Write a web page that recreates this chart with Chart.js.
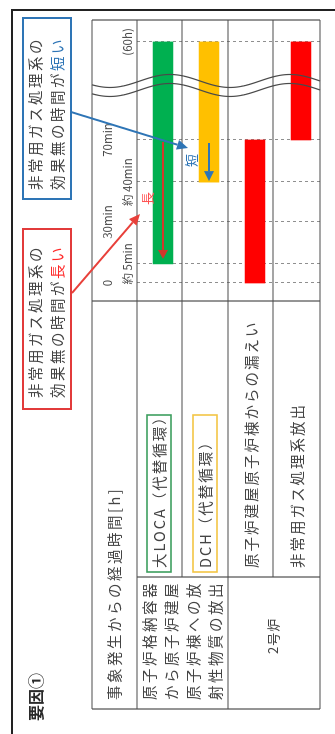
<!DOCTYPE html>
<html lang="ja">
<head>
<meta charset="utf-8">
<title>要因①</title>
<script src="https://cdn.jsdelivr.net/npm/chart.js@4.4.1/dist/chart.umd.min.js"></script>
<style>
  html, body { margin: 0; padding: 0; background: #fff; overflow: hidden; }
  body { width: 335px; height: 734px; position: relative; }
  /* the sheet is laid out landscape and turned to read bottom-to-top */
  #sheet {
    position: absolute; left: 0; top: 0; width: 734px; height: 335px;
    transform-origin: 0 0; transform: translate(0, 734px) rotate(-90deg);
    font-family: "Noto Sans CJK JP", "Noto Sans", sans-serif; color: #444;
  }
  #sheet canvas { position: absolute; left: 0; top: 0; }
  .t { position: absolute; white-space: nowrap; font-size: 14.5px; line-height: 22px; letter-spacing: 2.5px; }
  .title { left: 13px; top: 25px; font-size: 16px; line-height: 20px; font-weight: 700; color: #2a2a2a; letter-spacing: 0; }
  .note { position: absolute; top: 22px; height: 50px; box-sizing: border-box; border: 2px solid;
          padding: 0 0 0 8px; font-size: 14.5px; line-height: 22px; letter-spacing: 2.5px; white-space: nowrap; color: #444; background: #fff; }
  .note.blue { left: 534px; width: 183px; border-color: #2E75B6; }
  .note.red { left: 324px; width: 182px; border-color: #E23B3B; padding-left: 10px; }
  .note.blue .hl { color: #2E75B6; }
  .note.red .hl { color: #FF2A2A; }
  .mark { position: absolute; font-size: 13px; line-height: 14px; }
</style>
</head>
<body>
<div id="sheet">
  <canvas id="c" width="734" height="335"></canvas>
  <div class="t title">要因①</div>
  <div class="t" style="left:34px;top:103px">事象発生からの経過時間[h]</div>
  <div class="t" style="left:34px;top:138px">原子炉格納容器<br>から原子炉建屋<br>原子炉棟への放<br>射性物質の放出</div>
  <div class="t" style="left:80px;top:265px;font-size:13px;line-height:16px;letter-spacing:1px">2号炉</div>
  <div class="note blue">非常用ガス処理系の<br>効果無の時間が<span class="hl">短い</span></div>
  <div class="note red">非常用ガス処理系の<br>効果無の時間が<span class="hl">長い</span></div>
  <div class="mark" style="left:529px;top:140px;color:#FF5252">長</div>
  <div class="mark" style="left:567px;top:184px;color:#2E75B6">短</div>
</div>
<script>
// rows of the table (release paths)
const ROWS = ['大LOCA（代替循環）', 'DCH（代替循環）', '原子炉建屋原子炉棟からの漏えい', '非常用ガス処理系放出'];
// release period of each row, minutes after the event
const START_MIN = [5, 40, 0, 70];
const END_MIN = [3600, 3600, 70, 3600];
const BAR_COLORS = ['#00B050', '#FFC000', '#FF0000', '#FF0000'];
// time axis ticks (minutes) and their labels, two staggered lines
const TICK_MIN = [0, 5, 30, 40, 70, 3600];
const TICK_TEXT = [['0', ''], ['', '約 5min'], ['30min', ''], ['', '約 40min'], ['70min', ''], ['', '(60h)']];
// periods without the standby gas treatment effect (from, to), minutes
const LONG_SPAN = [5, 70];
const SHORT_SPAN = [40, 70];

// the time axis is drawn schematically: each tick gets its own share of the width
const AXIS_FRACS = [0.064, 0.132, 0.281, 0.423, 0.573, 0.922];
const BREAK_FRAC = 0.767;
const FONT = '"Noto Sans CJK JP", "Noto Sans", sans-serif';
const TABLE = { left: 25, right: 714, top: 92, header: 137, bottom: 320, split: 433, labelSplit: 157 };

class SegmentedScale extends Chart.LinearScale {
  _frac(value) {
    const k = TICK_MIN, f = AXIS_FRACS, n = k.length;
    let i = 0;
    if (value >= k[n - 1]) i = n - 2;
    else while (i < n - 2 && value > k[i + 1]) i++;
    return f[i] + (value - k[i]) * (f[i + 1] - f[i]) / (k[i + 1] - k[i]);
  }
  getPixelForValue(value) {
    return this.getPixelForDecimal(this._frac(value));
  }
  getValueForPixel(pixel) {
    const d = this.getDecimalForPixel(pixel);
    const k = TICK_MIN, f = AXIS_FRACS, n = k.length;
    let i = 0;
    while (i < n - 2 && d > f[i + 1]) i++;
    return k[i] + (d - f[i]) * (k[i + 1] - k[i]) / (f[i + 1] - f[i]);
  }
  buildTicks() {
    return TICK_MIN.map(v => ({ value: v }));
  }
}
SegmentedScale.id = 'segmented';
SegmentedScale.defaults = Chart.LinearScale.defaults;

// row names are set with the same wide character pitch as the rest of the sheet
class SpacedCategoryScale extends Chart.CategoryScale {
  drawLabels(chartArea) {
    const ctx = this.ctx;
    const prev = ctx.letterSpacing;
    ctx.letterSpacing = '2px';
    super.drawLabels(chartArea);
    ctx.letterSpacing = prev || '0px';
  }
}
SpacedCategoryScale.id = 'spacedCategory';
SpacedCategoryScale.defaults = Chart.CategoryScale.defaults;
Chart.register(SegmentedScale, SpacedCategoryScale);

function drawArrow(ctx, x1, y1, x2, y2, color, lw, headLen, headHalf) {
  const a = Math.atan2(y2 - y1, x2 - x1);
  const bx = x2 - headLen * Math.cos(a), by = y2 - headLen * Math.sin(a);
  ctx.save();
  ctx.strokeStyle = color; ctx.fillStyle = color; ctx.lineWidth = lw;
  ctx.beginPath(); ctx.moveTo(x1, y1); ctx.lineTo(bx, by); ctx.stroke();
  ctx.beginPath();
  ctx.moveTo(x2, y2);
  ctx.lineTo(bx + headHalf * Math.sin(a), by - headHalf * Math.cos(a));
  ctx.lineTo(bx - headHalf * Math.sin(a), by + headHalf * Math.cos(a));
  ctx.closePath(); ctx.fill();
  ctx.restore();
}

function line(ctx, x1, y1, x2, y2) {
  ctx.beginPath(); ctx.moveTo(x1, y1); ctx.lineTo(x2, y2); ctx.stroke();
}

const sheetPlugin = {
  id: 'sheet',
  beforeDatasetsDraw(chart) {
    const { ctx, scales: { x } } = chart;
    ctx.save();
    ctx.strokeStyle = '#8f8f8f'; ctx.lineWidth = 1; ctx.setLineDash([3, 3]);
    x.ticks.forEach(t => {
      const px = Math.round(x.getPixelForValue(t.value)) + 0.5;
      line(ctx, px, TABLE.header, px, TABLE.bottom);
    });
    ctx.restore();
  },
  afterDatasetsDraw(chart) {
    const { ctx, scales: { x, y } } = chart;
    // arrows along the bars: time without filtering
    const r1 = y.getPixelForValue(0), r2 = y.getPixelForValue(1);
    drawArrow(ctx, x.getPixelForValue(LONG_SPAN[1]) - 2, r1, x.getPixelForValue(LONG_SPAN[0]) + 5, r1, '#D2382B', 2, 9, 5);
    drawArrow(ctx, x.getPixelForValue(SHORT_SPAN[1]) - 3, r2, x.getPixelForValue(SHORT_SPAN[0]) + 1, r2, '#2E75B6', 2, 10, 5);

    // axis break
    const bc = x.left + BREAK_FRAC * x.width;
    ctx.save();
    ctx.strokeStyle = '#4a4a4a'; ctx.lineWidth = 1.2;
    [4.5, -4.5].forEach(off => {
      ctx.beginPath();
      for (let v = TABLE.top; v <= TABLE.bottom; v += 2) {
        const u = bc + off - 6.5 * Math.sin(2 * Math.PI * (v - 200) / 120);
        if (v === TABLE.top) ctx.moveTo(u, v); else ctx.lineTo(u, v);
      }
      ctx.stroke();
    });
    ctx.restore();
  },
  afterDraw(chart) {
    const { ctx, scales: { y } } = chart;
    ctx.save();
    // table rules
    ctx.strokeStyle = '#4d4d4d'; ctx.lineWidth = 1.2;
    line(ctx, TABLE.left, TABLE.top, TABLE.right, TABLE.top);
    line(ctx, TABLE.left, TABLE.header, TABLE.right, TABLE.header);
    line(ctx, TABLE.labelSplit, 182, TABLE.right, 182);
    line(ctx, TABLE.left, 228, TABLE.right, 228);
    line(ctx, TABLE.labelSplit, 273, TABLE.right, 273);
    line(ctx, TABLE.left, TABLE.bottom, TABLE.right, TABLE.bottom);
    line(ctx, TABLE.left, TABLE.top, TABLE.left, TABLE.bottom);
    line(ctx, TABLE.right, TABLE.top, TABLE.right, TABLE.bottom);
    line(ctx, TABLE.split, TABLE.top, TABLE.split, TABLE.bottom);
    line(ctx, TABLE.labelSplit, TABLE.header, TABLE.labelSplit, TABLE.bottom);

    // frames round the two scenario names
    const boxColors = ['#3C9E5E', '#F3C544'];
    boxColors.forEach((c, i) => {
      const cy = y.getPixelForValue(i) - 4;
      ctx.strokeStyle = c; ctx.lineWidth = 1.6;
      ctx.strokeRect(y.left - 4, cy - 12, 157, 24);
    });

    // sheet frame
    ctx.strokeStyle = '#222'; ctx.lineWidth = 2;
    line(ctx, 0, 12, 725, 12);
    line(ctx, 724, 12, 724, 335);

    // callout arrows
    drawArrow(ctx, 622, 71, 586, 188, '#2E75B6', 2, 11, 5);
    drawArrow(ctx, 441, 72, 520, 140, '#E8403A', 2, 11, 5);
    ctx.restore();
  }
};

new Chart(document.getElementById('c'), {
  type: 'bar',
  data: {
    labels: ROWS,
    datasets: [{
      data: ROWS.map((_, i) => [START_MIN[i], END_MIN[i]]),
      backgroundColor: BAR_COLORS,
      borderWidth: 0,
      barThickness: 20
    }]
  },
  options: {
    indexAxis: 'y',
    responsive: false,
    animation: false,
    devicePixelRatio: 1,
    layout: { padding: { left: 166, right: 20, top: 92, bottom: 11 } },
    plugins: { legend: { display: false }, tooltip: { enabled: false } },
    scales: {
      x: {
        type: 'segmented',
        position: 'top',
        min: 0,
        max: 3600,
        grid: { display: false, drawTicks: false },
        border: { display: false },
        ticks: {
          autoSkip: false, maxRotation: 0, minRotation: 0, padding: 2,
          color: '#4a4a4a', font: { family: FONT, size: 11.5, lineHeight: 20 / 11.5 },
          callback: (v, i) => TICK_TEXT[i]
        },
        afterFit(s) { s.height = 48; }
      },
      y: {
        type: 'spacedCategory',
        grid: { display: false },
        border: { display: false },
        ticks: {
          crossAlign: 'far', padding: 0, labelOffset: -4,
          color: '#444', font: { family: FONT, size: 14.5 }
        },
        afterFit(s) { s.width = 267; }
      }
    }
  },
  plugins: [sheetPlugin]
});
</script>
</body>
</html>
